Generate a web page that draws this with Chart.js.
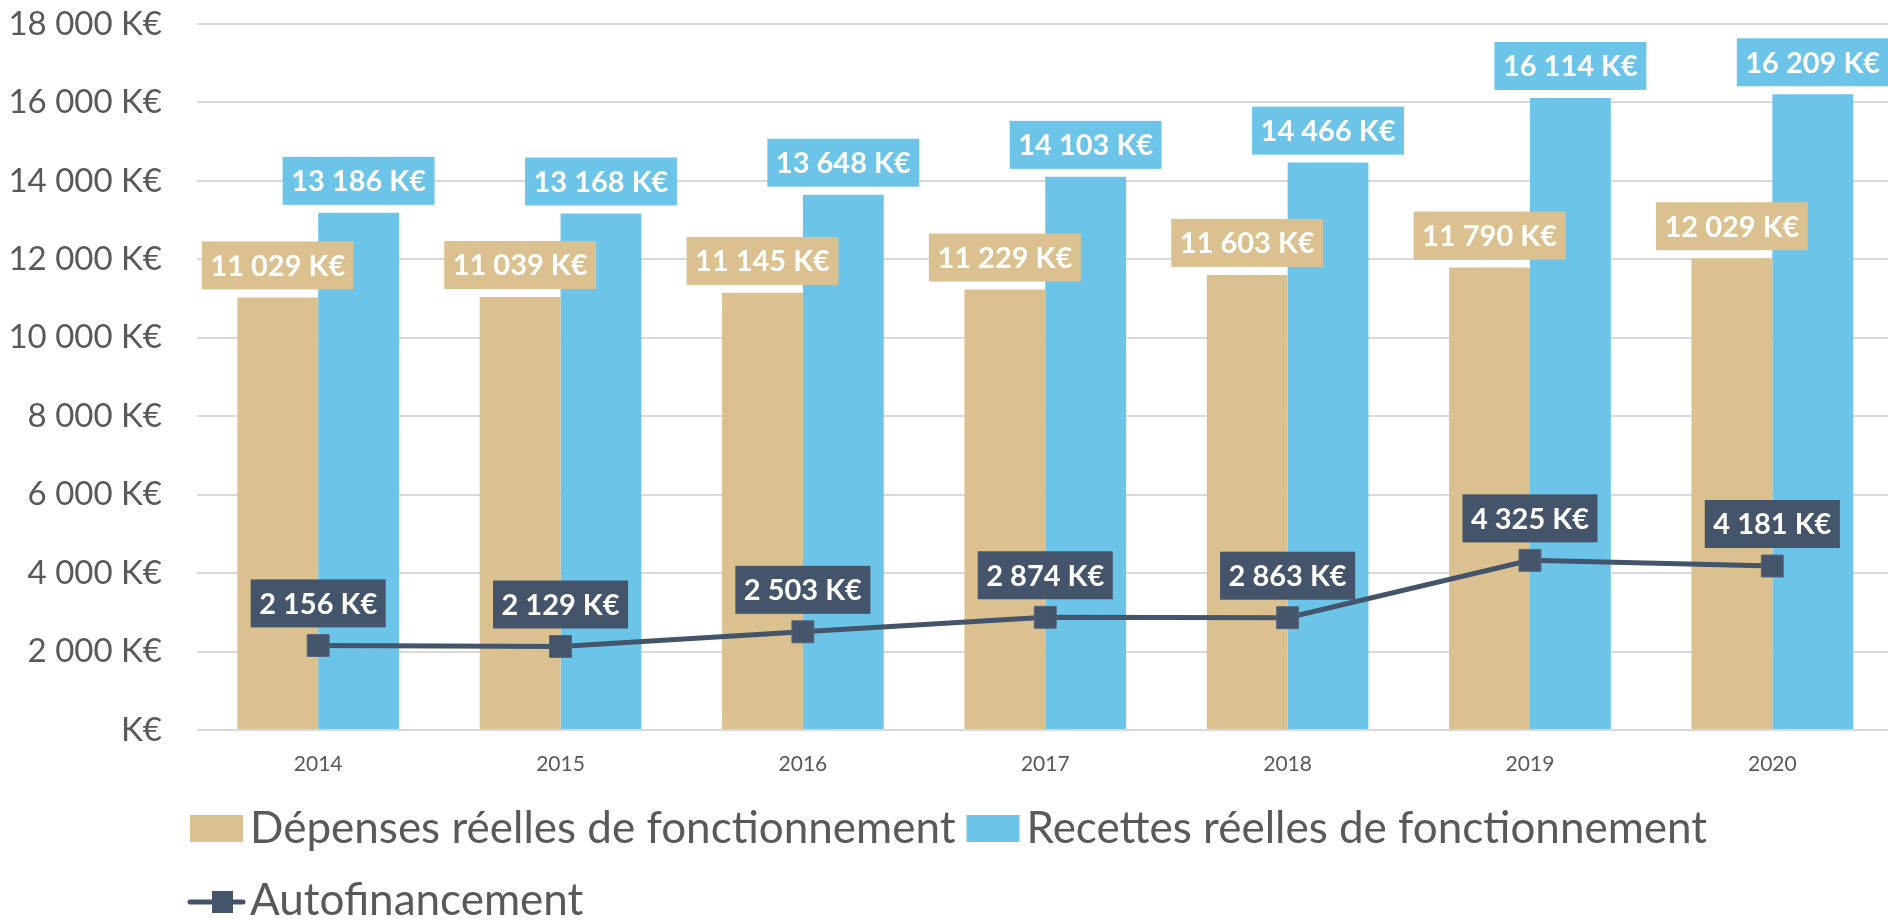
<!DOCTYPE html>
<html>
<head>
<meta charset="utf-8">
<script src="https://cdn.jsdelivr.net/npm/chart.js@4.4.1/dist/chart.umd.min.js"></script>
<style>
  html, body { margin: 0; padding: 0; background: #ffffff; overflow: hidden; width: 1888px; height: 921px; }
  #wrap { width: 1910px; height: 921px; position: absolute; left: 0; top: 0; }
  #c { display: block; width: 1910px; height: 921px; }
</style>
</head>
<body>
<div id="wrap"><canvas id="c" width="1910" height="921"></canvas></div>
<script>
const years = ['2014', '2015', '2016', '2017', '2018', '2019', '2020'];
const depenses = [11029, 11039, 11145, 11229, 11603, 11790, 12029];
const recettes = [13186, 13168, 13648, 14103, 14466, 16114, 16209];
const autofinancement = [2156, 2129, 2503, 2874, 2863, 4325, 4181];
const yTicks = [0, 2000, 4000, 6000, 8000, 10000, 12000, 14000, 16000, 18000];
const seriesNames = ['Dépenses réelles de fonctionnement', 'Recettes réelles de fonctionnement', 'Autofinancement'];

const TAN = '#DBC18F';
const BLUE = '#6CC5E8';
const NAVY = '#44546A';
const GREY_TEXT = '#595959';
const FONT = 'Lato, "Open Sans", "Noto Sans", sans-serif';

function fmt(v) {
  return String(Math.round(v)).replace(/\B(?=(\d{3})+(?!\d))/g, ' ');
}
function fmtK(v) {
  return v === 0 ? 'K€' : fmt(v) + ' K€';
}

// Data labels drawn as coloured boxes above each mark
const dataLabels = {
  id: 'dataLabels',
  afterDatasetsDraw(chart) {
    const ctx = chart.ctx;
    ctx.save();
    ctx.font = 'bold 29px ' + FONT;
    ctx.textAlign = 'center';
    ctx.textBaseline = 'middle';
    [0, 1, 2].forEach(di => {
      const ds = chart.data.datasets[di];
      const meta = chart.getDatasetMeta(di);
      meta.data.forEach((el, i) => {
        const txt = fmt(ds.data[i]) + ' K€';
        const w = ctx.measureText(txt).width + 17;
        const h = 48;
        const bottom = ds.type === 'line' ? el.y - 18 : el.y - 8;
        const x = el.x;
        ctx.fillStyle = ds.labelBg;
        ctx.fillRect(x - w / 2, bottom - h, w, h);
        ctx.fillStyle = '#ffffff';
        ctx.fillText(txt, x, bottom - h / 2 + 1);
      });
    });
    ctx.restore();
  }
};

// Legend drawn below the plot, left aligned to the plot
const customLegend = {
  id: 'customLegend',
  afterDraw(chart) {
    const ctx = chart.ctx;
    const area = chart.chartArea;
    ctx.save();
    ctx.font = '44px ' + FONT;
    ctx.textAlign = 'left';
    ctx.textBaseline = 'alphabetic';
    const startX = area.left - 8;
    const maxX = 1880;
    const rows = [chart.height - 78, chart.height - 6];
    let row = 0;
    let x = startX;
    chart.data.datasets.forEach((ds) => {
      const text = ds.label;
      const tw = ctx.measureText(text).width;
      const itemW = 55 + 7 + tw;
      if (x + itemW > maxX && x !== startX) { row++; x = startX; }
      const base = rows[row];
      if (ds.type === 'line') {
        const cy = base - 13;
        ctx.strokeStyle = ds.borderColor;
        ctx.lineWidth = 5;
        ctx.lineCap = 'round';
        ctx.beginPath();
        ctx.moveTo(x + 1, cy);
        ctx.lineTo(x + 54, cy);
        ctx.stroke();
        ctx.fillStyle = ds.backgroundColor;
        ctx.fillRect(x + 23, cy - 11, 21, 22);
      } else {
        ctx.fillStyle = ds.backgroundColor;
        ctx.fillRect(x + 1, base - 28, 53, 27);
      }
      ctx.fillStyle = GREY_TEXT;
      ctx.fillText(text, x + 61, base);
      x += itemW + 9;
    });
    ctx.restore();
  }
};

const ctx = document.getElementById('c').getContext('2d');
new Chart(ctx, {
  data: {
    labels: years,
    datasets: [
      {
        type: 'bar',
        label: seriesNames[0],
        data: depenses,
        backgroundColor: TAN,
        labelBg: TAN,
        order: 2,
        categoryPercentage: 0.667,
        barPercentage: 1.0
      },
      {
        type: 'bar',
        label: seriesNames[1],
        data: recettes,
        backgroundColor: BLUE,
        labelBg: BLUE,
        order: 2,
        categoryPercentage: 0.667,
        barPercentage: 1.0
      },
      {
        type: 'line',
        label: seriesNames[2],
        data: autofinancement,
        borderColor: NAVY,
        backgroundColor: NAVY,
        labelBg: NAVY,
        borderWidth: 5,
        pointStyle: 'rect',
        pointRadius: 15.5,
        pointBackgroundColor: NAVY,
        pointBorderColor: '#56657a',
        pointBorderWidth: 1,
        tension: 0,
        order: 0
      }
    ]
  },
  options: {
    responsive: false,
    maintainAspectRatio: false,
    animation: false,
    devicePixelRatio: 1,
    layout: { padding: { top: 24, right: 7, bottom: 131, left: 0 } },
    plugins: {
      legend: { display: false },
      tooltip: { enabled: false }
    },
    scales: {
      x: {
        grid: { display: false },
        border: { display: false },
        ticks: {
          color: GREY_TEXT,
          font: { family: FONT, size: 21 },
          padding: 14
        },
        afterFit(scale) { scale.height = 60; scale.paddingLeft = 0; scale.paddingRight = 0; }
      },
      y: {
        min: 0,
        max: 18000,
        afterBuildTicks(scale) { scale.ticks = yTicks.map(v => ({ value: v })); },
        grid: { color: '#D9D9D9', lineWidth: 2, drawTicks: false },
        border: { display: false },
        ticks: {
          color: GREY_TEXT,
          font: { family: FONT, size: 33 },
          padding: 35,
          callback: (v) => fmtK(v)
        },
        afterFit(scale) { scale.width = 197; scale.paddingTop = 0; scale.paddingBottom = 0; }
      }
    }
  },
  plugins: [dataLabels, customLegend]
});
</script>
</body>
</html>
